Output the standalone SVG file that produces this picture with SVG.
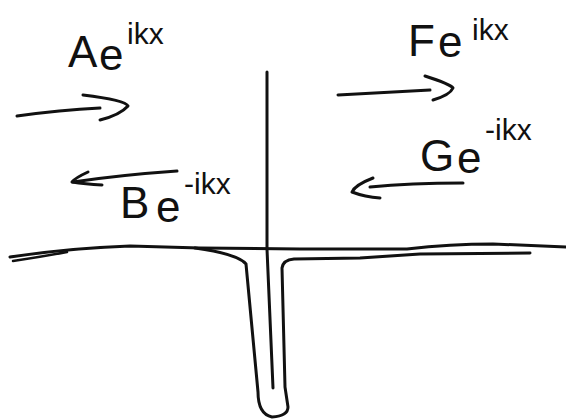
<svg xmlns="http://www.w3.org/2000/svg" width="566" height="419" viewBox="0 0 566 419">
<style>
.ink{fill:none;stroke:#111;stroke-width:3;stroke-linecap:round;stroke-linejoin:round}
.thin{stroke-width:2.5}
.lbl{font-family:"Liberation Sans","DejaVu Sans",sans-serif;fill:#111}
.big{font-size:44px}
.sup{font-size:30px}
</style>
<rect width="566" height="419" fill="#fff"/>
<g id="ground">
<path class="ink" d="M10,257 Q70,248 130,246 L200,248 L300,249 L407,249 Q450,244 493,244 L566,247"/>
<path class="ink thin" d="M13,261 Q40,257 67,252"/>
</g>
<g id="well">
<path class="ink" d="M195,248 Q238,254 246,264 L258,392 Q258,414 272,417 Q288,416 288,407 L285,387 L282,268 Q283,260 294,259 L360,258 Q390,256 420,254 L530,253"/>
</g>
<g id="barrier">
<path class="ink" d="M267,72 L267,249 L273,388"/>
</g>
<g id="arrows">
<path class="ink" d="M17,116 Q60,110 100,108"/>
<path class="ink" d="M83,95 Q125,100 128,106 Q120,115 100,120"/>
<path class="ink" d="M338,95 Q390,92 430,90"/>
<path class="ink" d="M425,76 Q450,84 453,88 Q450,95 433,100"/>
<path class="ink" d="M177,171 Q120,175 73,182"/>
<path class="ink" d="M88,172 Q75,178 72,182 Q85,184 102,185"/>
<path class="ink" d="M463,183 Q410,183 370,187"/>
<path class="ink" d="M373,178 Q355,185 352,192 Q365,197 380,198"/>
</g>
<g id="label-A">
<text class="lbl"><tspan class="big" x="68" y="67">A</tspan><tspan class="big" x="99" y="70">e</tspan><tspan class="sup" x="127" y="44">ikx</tspan></text>
</g>
<g id="label-F">
<text class="lbl"><tspan class="big" x="408" y="56">F</tspan><tspan class="big" x="438" y="57">e</tspan><tspan class="sup" x="472" y="40">ikx</tspan></text>
</g>
<g id="label-B">
<text class="lbl"><tspan class="big" x="120" y="218">B</tspan><tspan class="big" x="156" y="222">e</tspan><tspan class="sup" x="184" y="194">-ikx</tspan></text>
</g>
<g id="label-G">
<text class="lbl"><tspan class="big" x="420" y="171">G</tspan><tspan class="big" x="457" y="173">e</tspan><tspan class="sup" x="485" y="140">-ikx</tspan></text>
</g>
</svg>
